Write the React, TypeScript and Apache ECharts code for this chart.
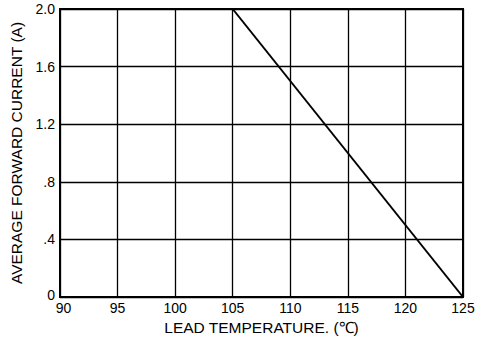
import React, { useEffect, useRef } from "react";
import * as echarts from "echarts";

const xTicks = [90, 95, 100, 105, 110, 115, 120, 125];
const yTickLabels: Record<string, string> = { "0": "0", "0.4": ".4", "0.8": ".8", "1.2": "1.2", "1.6": "1.6", "2": "2.0" };
const deratingTemp = [105, 125];
const deratingCurrent = [2.0, 0];

export default function App() {
  const ref = useRef<HTMLDivElement>(null);
  useEffect(() => {
    if (!ref.current) return;
    const chart = echarts.init(ref.current, undefined, { renderer: "svg" });
    const font = "'Liberation Sans', Arial, sans-serif";
    chart.setOption({
      animation: false,
      backgroundColor: "#fff",
      grid: { left: 59, top: 9, right: 16, bottom: 44, show: true, borderColor: "#000", borderWidth: 2, backgroundColor: "transparent" },
      xAxis: {
        type: "value",
        min: xTicks[0],
        max: xTicks[xTicks.length - 1],
        interval: 5,
        name: "LEAD TEMPERATURE. (\u2103)",
        nameLocation: "middle",
        nameGap: 20,
        nameTextStyle: { color: "#000", fontSize: 15.5, fontFamily: font },
        axisLine: { show: true, lineStyle: { color: "#000", width: 2 } },
        axisTick: { show: false },
        axisLabel: {
          color: "#000",
          fontSize: 14,
          fontFamily: font,
          margin: 4,
          formatter: (v: number) => (v === xTicks[0] ? "{f|" + v + "}" : String(v)),
          rich: { f: { fontSize: 14, fontFamily: font, color: "#000", padding: [0, 0, 0, 7] } },
        },
        splitLine: { show: true, lineStyle: { color: "#000", width: 1.3 } },
      },
      yAxis: {
        type: "value",
        min: 0,
        max: 2,
        interval: 0.4,
        name: "AVERAGE FORWARD CURRENT (A)",
        nameLocation: "middle",
        nameGap: 36,
        nameTextStyle: { color: "#000", fontSize: 15.5, fontFamily: font },
        axisLine: { show: true, lineStyle: { color: "#000", width: 2 } },
        axisTick: { show: false },
        axisLabel: {
          color: "#000",
          fontSize: 14,
          fontFamily: font,
          margin: 5,
          formatter: (v: number) => {
            const s = yTickLabels[String(Math.round(v * 10) / 10)] ?? String(v);
            return v === 0 ? "{z|" + s + "}" : s;
          },
          rich: { z: { fontSize: 14, fontFamily: font, color: "#000", padding: [0, 0, 5, 0] } },
        },
        splitLine: { show: true, lineStyle: { color: "#000", width: 1.3 } },
      },
      series: [
        {
          type: "line",
          data: deratingTemp.map((t, i) => [t, deratingCurrent[i]]),
          symbol: "none",
          lineStyle: { color: "#000", width: 2 },
        },
      ],
    });
    return () => chart.dispose();
  }, []);
  return <div ref={ref} style={{ width: 479, height: 341, position: "absolute", left: 0, top: 0 }} />;
}
